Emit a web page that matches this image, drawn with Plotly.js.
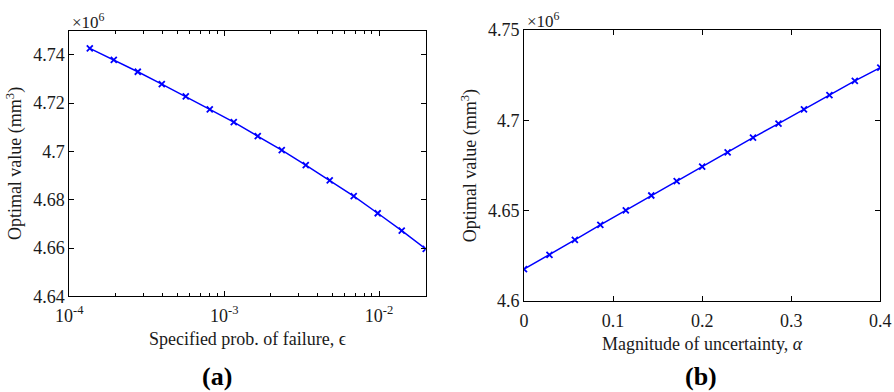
<!DOCTYPE html>
<html>
<head>
<meta charset="utf-8">
<script src="https://cdn.plot.ly/plotly-3.0.1.min.js"></script>
<style>html,body{margin:0;padding:0;background:#fff;}#chart{width:894px;height:392px;}</style>
</head>
<body>
<div id="chart"></div>
<script>
// Panel (a): specified probability of failure vs optimal value (x10^6 mm^3)
const epsValues = [0.00013564, 0.00019378, 0.00027683, 0.00039547, 0.00056495, 0.00080707, 0.00115296, 0.00164709, 0.00235298, 0.0033614, 0.004802, 0.00686, 0.0098, 0.014, 0.02];
const optA = [4.7427, 4.7379, 4.7330, 4.7279, 4.7228, 4.7174, 4.7121, 4.7063, 4.7005, 4.6943, 4.6880, 4.6815, 4.6744, 4.6672, 4.6596];
// Panel (b): magnitude of uncertainty vs optimal value (x10^6 mm^3)
const alphaValues = [0, 0.0286, 0.0571, 0.0857, 0.1143, 0.1429, 0.1714, 0.2, 0.2286, 0.2571, 0.2857, 0.3143, 0.3429, 0.3714, 0.4];
const optB = [4.6176, 4.6255, 4.6338, 4.6421, 4.6502, 4.6584, 4.6663, 4.6744, 4.6823, 4.6904, 4.6982, 4.7061, 4.7139, 4.7218, 4.7292];
// Tick labels
const xTickValsA = [1e-4, 1e-3, 1e-2];
const xTickTextA = ["10<sup>-4</sup>", "10<sup>-3</sup>", "10<sup>-2</sup>"];
const yTickValsA = [4.64, 4.66, 4.68, 4.70, 4.72, 4.74];
const yTickTextA = ["4.64", "4.66", "4.68", "4.7", "4.72", "4.74"];
const xTickValsB = [0, 0.1, 0.2, 0.3, 0.4];
const xTickTextB = ["0", "0.1", "0.2", "0.3", "0.4"];
const yTickValsB = [4.60, 4.65, 4.70, 4.75];
const yTickTextB = ["4.6", "4.65", "4.7", "4.75"];

const W = 894, H = 392;
const FONT = 'Times New Roman, Times, Liberation Serif, DejaVu Serif, serif';
const TXT = "#1a1a1a";
const blue = "#0000ff";

const trA = {x: epsValues, y: optA, xaxis: 'x', yaxis: 'y', type: 'scatter', mode: 'lines+markers',
  line: {color: blue, width: 1.5}, marker: {symbol: 'x-thin', size: 6, color: blue, line: {color: blue, width: 1.8}}, showlegend: false, hoverinfo: 'x+y'};
const trB = {x: alphaValues, y: optB, xaxis: 'x2', yaxis: 'y2', type: 'scatter', mode: 'lines+markers',
  line: {color: blue, width: 1.5}, marker: {symbol: 'x-thin', size: 6, color: blue, line: {color: blue, width: 1.8}}, showlegend: false, hoverinfo: 'x+y'};

function px(x) { return x / W; }
function py(y) { return 1 - y / H; }

const axBase = {
  showline: true, linecolor: '#000', linewidth: 1, mirror: 'ticks', ticks: 'inside', ticklen: 5, tickwidth: 1, tickcolor: '#000',
  showgrid: false, zeroline: false, tickfont: {family: FONT, size: 18, color: TXT}, automargin: false
};

const layout = {
  width: W, height: H, margin: {l: 0, r: 0, t: 0, b: 0}, paper_bgcolor: '#fff', plot_bgcolor: '#fff',
  font: {family: FONT, color: TXT},
  xaxis: Object.assign({}, axBase, {
    type: 'log', domain: [px(69.3), px(425.7)], range: [-4, Math.log10(0.02)], anchor: 'y',
    tickmode: 'array', tickvals: xTickValsA, ticktext: xTickTextA, ticklabelstandoff: 3,
    minor: {ticks: 'inside', ticklen: 3, tickcolor: '#000', dtick: 'D1', showgrid: false},
    title: {text: 'Specified prob. of failure, ϵ', font: {family: FONT, size: 18, color: TXT}, standoff: 7}
  }),
  yaxis: Object.assign({}, axBase, {
    domain: [py(296.3), py(30.7)], range: [4.64, 4.75], anchor: 'x',
    tickmode: 'array', tickvals: yTickValsA, ticktext: yTickTextA,
    title: {text: 'Optimal value (mm<sup>3</sup>)', font: {family: FONT, size: 18, color: TXT}, standoff: 6}
  }),
  xaxis2: Object.assign({}, axBase, {
    domain: [px(524), px(880.3)], range: [0, 0.4], anchor: 'y2',
    tickmode: 'array', tickvals: xTickValsB, ticktext: xTickTextB, ticklabelstandoff: 3,
    title: {text: 'Magnitude of uncertainty, <i>α</i>', font: {family: FONT, size: 18, color: TXT}, standoff: 7}
  }),
  yaxis2: Object.assign({}, axBase, {
    domain: [py(301), py(30)], range: [4.6, 4.75], anchor: 'x2',
    tickmode: 'array', tickvals: yTickValsB, ticktext: yTickTextB,
    title: {text: 'Optimal value (mm<sup>3</sup>)', font: {family: FONT, size: 18, color: TXT}, standoff: 6}
  }),
  annotations: [
    {xref: 'paper', yref: 'paper', x: px(70), y: py(34), xanchor: 'left', yanchor: 'bottom', showarrow: false,
     text: '×10<sup>6</sup>', font: {family: FONT, size: 17, color: TXT}},
    {xref: 'paper', yref: 'paper', x: px(525), y: py(33), xanchor: 'left', yanchor: 'bottom', showarrow: false,
     text: '×10<sup>6</sup>', font: {family: FONT, size: 17, color: TXT}},
    {xref: 'paper', yref: 'paper', x: px(217), y: py(376), xanchor: 'center', yanchor: 'middle', showarrow: false,
     text: '<b>(a)</b>', font: {family: FONT, size: 26, color: '#000'}},
    {xref: 'paper', yref: 'paper', x: px(701), y: py(376), xanchor: 'center', yanchor: 'middle', showarrow: false,
     text: '<b>(b)</b>', font: {family: FONT, size: 26, color: '#000'}}
  ]
};

Plotly.newPlot('chart', [trA, trB], layout, {displayModeBar: false, staticPlot: true});
</script>
</body>
</html>
